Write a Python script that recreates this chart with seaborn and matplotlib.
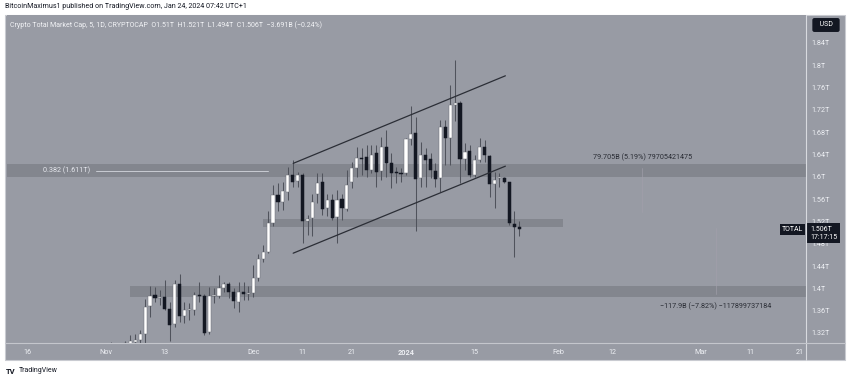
import numpy as np
import pandas as pd
import matplotlib
matplotlib.use("Agg")
import matplotlib.pyplot as plt
import matplotlib.transforms as mtransforms
from matplotlib.patches import Rectangle
import seaborn as sns

# ---------------- data ----------------
start_date = "2023-11-02"
opens = [1.290, 1.296, 1.285, 1.297, 1.301, 1.304, 1.307, 1.318, 1.369, 1.388,
         1.383, 1.385, 1.363, 1.336, 1.408, 1.350, 1.361, 1.361, 1.388, 1.387,
         1.321, 1.386, 1.386, 1.400, 1.407, 1.394, 1.376, 1.393, 1.390,
         1.391, 1.418, 1.452, 1.466, 1.517, 1.567, 1.555, 1.572, 1.603, 1.592,
         1.603, 1.521, 1.526, 1.570, 1.590, 1.544, 1.558, 1.527, 1.560, 1.542,
         1.591, 1.615, 1.633, 1.635, 1.613, 1.642, 1.611, 1.653, 1.625, 1.607,
         1.606,
         1.607, 1.667, 1.678, 1.597, 1.639, 1.631, 1.611, 1.597, 1.689, 1.669,
         1.729, 1.732, 1.631, 1.646, 1.603, 1.630, 1.654, 1.638, 1.587, 1.597,
         1.597, 1.590, 1.515, 1.510]
highs = [1.303, 1.299, 1.300, 1.305, 1.316, 1.318, 1.325, 1.381, 1.405, 1.403,
         1.397, 1.415, 1.376, 1.415, 1.425, 1.376, 1.373, 1.394, 1.411, 1.389,
         1.403, 1.400, 1.424, 1.412, 1.412, 1.400, 1.412, 1.412, 1.405,
         1.442, 1.462, 1.478, 1.538, 1.585, 1.588, 1.591, 1.618, 1.630, 1.609,
         1.606, 1.532, 1.570, 1.606, 1.606, 1.570, 1.570, 1.576, 1.570, 1.612,
         1.627, 1.654, 1.652, 1.657, 1.657, 1.657, 1.672, 1.684, 1.642, 1.618,
         1.616,
         1.669, 1.726, 1.708, 1.663, 1.651, 1.642, 1.624, 1.702, 1.702, 1.765,
         1.810, 1.735, 1.660, 1.657, 1.639, 1.669, 1.666, 1.639, 1.609, 1.606,
         1.600, 1.591, 1.538, 1.521]
lows = [1.280, 1.272, 1.281, 1.288, 1.290, 1.295, 1.300, 1.300, 1.349, 1.376,
        1.370, 1.361, 1.306, 1.331, 1.340, 1.337, 1.343, 1.352, 1.376, 1.317,
        1.318, 1.373, 1.382, 1.394, 1.382, 1.364, 1.358, 1.379, 1.379,
        1.385, 1.414, 1.448, 1.463, 1.511, 1.538, 1.541, 1.558, 1.582, 1.582,
        1.481, 1.496, 1.493, 1.553, 1.532, 1.529, 1.523, 1.481, 1.523, 1.538,
        1.579, 1.600, 1.603, 1.600, 1.606, 1.582, 1.594, 1.600, 1.579, 1.588,
        1.590,
        1.603, 1.657, 1.502, 1.582, 1.582, 1.597, 1.582, 1.573, 1.621, 1.621,
        1.700, 1.588, 1.612, 1.600, 1.600, 1.627, 1.627, 1.563, 1.544, 1.582,
        1.588, 1.514, 1.457, 1.494]
closes = [1.296, 1.285, 1.297, 1.302, 1.305, 1.307, 1.318, 1.367, 1.387, 1.383,
          1.385, 1.363, 1.334, 1.408, 1.350, 1.361, 1.362, 1.388, 1.386, 1.320,
          1.387, 1.388, 1.400, 1.407, 1.393, 1.377, 1.394, 1.390, 1.391,
          1.418, 1.452, 1.466, 1.517, 1.567, 1.554, 1.574, 1.603, 1.591, 1.603,
          1.521, 1.525, 1.555, 1.588, 1.542, 1.558, 1.526, 1.558, 1.544, 1.585,
          1.615, 1.633, 1.631, 1.612, 1.639, 1.609, 1.653, 1.625, 1.607, 1.606,
          1.605,
          1.667, 1.677, 1.596, 1.639, 1.630, 1.612, 1.596, 1.689, 1.669, 1.729,
          1.733, 1.631, 1.645, 1.603, 1.630, 1.654, 1.639, 1.587, 1.594, 1.598,
          1.590, 1.517, 1.510, 1.506]

# horizontal zones (low, high, start, end)
zone_low = [1.600, 1.510, 1.384]
zone_high = [1.622, 1.524, 1.404]
zone_start = ["2023-10-11", "2023-12-03", "2023-11-06"]
zone_end = ["2024-03-25", "2024-02-02", "2024-03-25"]

# ascending channel
chan_x = ["2023-12-09 02:00", "2024-01-21 05:00"]
chan_upper = [1.624, 1.781]
chan_lower = [1.463, 1.619]

fib_level = 1.611
fib_x = ["2023-10-30", "2023-12-04"]

measure_up = (1.536, 1.615, "2024-02-18")
measure_dn = (1.508, 1.390, "2024-03-04")

price_ticks = [1.32, 1.36, 1.40, 1.44, 1.48, 1.52, 1.56, 1.60, 1.64, 1.68, 1.72, 1.76, 1.80, 1.84]
time_ticks = ["2023-10-16", "2023-11-01", "2023-11-13", "2023-12-01", "2023-12-11",
              "2023-12-21", "2024-01-01", "2024-01-15", "2024-02-01", "2024-02-12",
              "2024-03-01", "2024-03-11", "2024-03-21"]
time_labels = ["16", "Nov", "13", "Dec", "11", "21", "2024", "15", "Feb", "12", "Mar", "11", "21"]

# ---------------- style ----------------
sns.set_theme(style="white")
plt.rcParams["font.family"] = ["Roboto", "DejaVu Sans"]

BG = "#989ba4"
ZONE = "#83868e"
DARK = "#131722"
TXT_LIGHT = "#eef0f4"
WICK = "#50535c"

W, H = 850, 381
fig = plt.figure(figsize=(W / 100, H / 100), dpi=100)
fig.patch.set_facecolor("white")


def fx(px):
    return px / W


def fy(py):
    return 1 - py / H


# chart panel (behind everything)
panel = Rectangle((fx(5), fy(360)), fx(840), 345 / H, transform=fig.transFigure,
                  facecolor=BG, edgecolor="#c9cbd1", lw=0.8, zorder=-10)
fig.patches.append(panel)

L, R, T, B = 7, 806, 15, 343
ax = fig.add_axes([fx(L), fy(B), fx(R - L), (B - T) / H])
ax.set_zorder(1)
ax.set_facecolor(BG)
for s in ax.spines.values():
    s.set_visible(False)

dates = pd.date_range(start_date, periods=len(opens), freq="D")
df = pd.DataFrame({"date": dates, "open": opens, "high": highs, "low": lows, "close": closes})
up = (df["close"] >= df["open"]).to_numpy()

x0 = pd.Timestamp("2023-10-16") - pd.Timedelta(days=4.07)
x1 = pd.Timestamp("2023-10-16") + pd.Timedelta(days=158.3)

# zones
for lo, hi, s, e in zip(zone_low, zone_high, zone_start, zone_end):
    ax.fill_between([pd.Timestamp(s), pd.Timestamp(e)], lo, hi, color=ZONE, lw=0, zorder=1)

# fib line + label
ax.plot([pd.Timestamp(v) for v in fib_x], [fib_level, fib_level], color="#c9ccd3", lw=0.7, zorder=2)
ax.annotate(f"0.382 ({fib_level}T)", xy=(pd.Timestamp(fib_x[0]), fib_level), xytext=(-4, 0),
            textcoords="offset points", ha="right", va="center", fontsize=5.2,
            color="#e6e8ee", zorder=2)

# candles
ax.vlines(df["date"], df["low"], df["high"], color=WICK, lw=0.75, zorder=3)
body_bottom = np.minimum(df["open"], df["close"])
body_h = np.maximum(np.abs(df["close"] - df["open"]), 0.0018)
ax.bar(df["date"], body_h, bottom=body_bottom, width=0.64,
       color=np.where(up, "#ffffff", DARK), edgecolor=np.where(up, "#6b6e77", DARK),
       linewidth=0.35, zorder=4)

# channel
chan_df = pd.DataFrame({"date": pd.to_datetime(chan_x * 2),
                        "price": chan_upper + chan_lower,
                        "line": ["upper", "upper", "lower", "lower"]})
sns.lineplot(data=chan_df, x="date", y="price", units="line", estimator=None,
             color="#2b2e36", lw=0.9, ax=ax, zorder=5, legend=False)

# measurement annotations
for lo_p, hi_p, d in [measure_up, measure_dn]:
    ax.plot([pd.Timestamp(d)] * 2, [lo_p, hi_p], color="#a3a0ab", lw=0.6, alpha=0.7, zorder=2)
ax.annotate("79.705B (5.19%) 79705421475", xy=(pd.Timestamp(measure_up[2]), measure_up[1]),
            xytext=(0, 8), textcoords="offset points", ha="center", va="center",
            fontsize=5.2, color="#2a2d35", zorder=6)
ax.annotate("\u2212117.9B (\u22127.82%) \u2212117899737184", xy=(pd.Timestamp(measure_dn[2]), measure_dn[1]),
            xytext=(0, -9), textcoords="offset points", ha="center", va="center",
            fontsize=5.2, color="#2a2d35", zorder=6)

ax.set_xlim(x0, x1)
ax.set_ylim(1.302, 1.890)

# axes ticks
ax.yaxis.tick_right()
ax.set_yticks(price_ticks)
ax.set_yticklabels([f"{v:g}T" for v in price_ticks])
ax.set_xticks(pd.to_datetime(time_ticks))
ax.set_xticklabels(time_labels)
ax.tick_params(axis="y", length=0, pad=4, labelsize=5.2, labelcolor=TXT_LIGHT)
ax.tick_params(axis="x", length=0, pad=4, labelsize=5.2, labelcolor=TXT_LIGHT)
for lab in ax.get_xticklabels():
    if lab.get_text() == "2024":
        lab.set_fontweight("bold")
for lab in ax.get_yticklabels():
    lab.set_horizontalalignment("left")
ax.set_xlabel("")
ax.set_ylabel("")
ax.grid(False)

# separators
fig.add_artist(plt.Line2D([fx(806), fx(806)], [fy(15), fy(360)], transform=fig.transFigure,
                          color="#d8dadf", lw=0.8, zorder=2))
fig.add_artist(plt.Line2D([fx(5), fx(845)], [fy(343), fy(343)], transform=fig.transFigure,
                          color="#c4c6cc", lw=0.8, zorder=2))

# last price label
last = df.iloc[-1]
blend = mtransforms.blended_transform_factory(ax.transAxes, ax.transData)
ax.text(1.0 + 4 / (R - L), last["close"] + 0.006, f"{last['close']:.3f}T\n17:17:15", transform=blend,
        ha="left", va="top", fontsize=5.0, color="white", linespacing=1.15, zorder=10, clip_on=False,
        bbox=dict(boxstyle="square,pad=0.4", fc=DARK, ec="none"))
ax.text(1.0 - 3 / (R - L), last["close"], "TOTAL", transform=blend, ha="right", va="center",
        fontsize=5.0, color="white", zorder=10, clip_on=False,
        bbox=dict(boxstyle="square,pad=0.3", fc=DARK, ec="none"))

# USD box
fig.text(fx(826), fy(25), "  USD  ", ha="center", va="center", fontsize=5.0, color="white", zorder=5,
         bbox=dict(boxstyle="round,pad=0.5,rounding_size=0.3", fc=DARK, ec="none"))

# headers
fig.text(fx(5), fy(7), "BitcoinMaximus1 published on TradingView.com, Jan 24, 2024 07:42 UTC+1",
         ha="left", va="center", fontsize=5.1, color="#131722")
fig.text(fx(10), fy(25),
         "Crypto Total Market Cap, 5, 1D, CRYPTOCAP  O1.51T  H1.521T  L1.494T  C1.506T  \u22123.691B (\u22120.24%)",
         ha="left", va="center", fontsize=5.0, color="#f2f3f6", zorder=5)

# footer logo
fig.text(fx(6), fy(371), "TV", ha="left", va="center", fontsize=5.5, fontweight="bold", color="#131722")
fig.text(fx(19), fy(371), "TradingView", ha="left", va="center", fontsize=5.0, color="#131722")

fig.savefig("out.png", dpi=100, facecolor="white")
